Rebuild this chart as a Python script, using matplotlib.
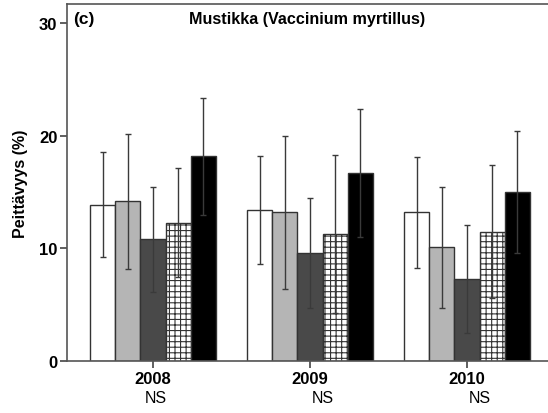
import numpy as np
import matplotlib
matplotlib.use("Agg")
import matplotlib.pyplot as plt

plt.rcParams['font.family'] = ['Liberation Sans', 'DejaVu Sans']
plt.rcParams['hatch.linewidth'] = 0.8

years = ['2008', '2009', '2010']
# cover (%) per treatment, one list per year
means = {
    '2008': [13.9, 14.2, 10.8, 12.3, 18.2],
    '2009': [13.4, 13.2, 9.6, 11.3, 16.7],
    '2010': [13.2, 10.1, 7.3, 11.5, 15.0],
}
errs = {
    '2008': [4.7, 6.0, 4.7, 4.8, 5.2],
    '2009': [4.8, 6.8, 4.9, 7.0, 5.7],
    '2010': [4.9, 5.4, 4.8, 5.9, 5.4],
}
sig = ['NS', 'NS', 'NS']

fills = ['white', '#b5b5b5', '#494949', 'white', 'black']
hatches = [None, None, None, '+++', None]

fig = plt.figure(figsize=(5.48, 4.14), dpi=100)
ax = fig.add_axes([0.1223, 0.1256, 0.8777, 0.862])

x = np.arange(len(years))
w = 0.16
for i in range(5):
    vals = [means[y][i] for y in years]
    ee = [errs[y][i] for y in years]
    pos = x + (i - 2) * w
    ax.bar(pos, vals, w, color=fills[i], edgecolor='#333333', linewidth=1.0,
           hatch=hatches[i], zorder=2)
    ax.errorbar(pos, vals, yerr=ee, fmt='none', ecolor='#3a3a3a',
                elinewidth=1.0, capsize=2.5, capthick=1.0, zorder=3)

ax.set_xlim(-0.548, 2.516)
ax.set_ylim(0, 31.7)
ax.set_yticks([0, 10, 20, 30])
ax.set_xticks(x)
ax.set_xticklabels(years, fontsize=12, fontweight='bold')
for t in ax.get_yticklabels():
    t.set_fontweight('bold')
    t.set_fontsize(12)
ax.tick_params(axis='both', direction='out', length=5, width=1.2,
               color='#444444', pad=2)
ax.spines['right'].set_visible(False)
for s in ['left', 'bottom', 'top']:
    ax.spines[s].set_linewidth(1.2)
    ax.spines[s].set_color('#555555')

ns_dx = [2, 9, 9]
for xi, s, dx in zip(x, sig, ns_dx):
    ax.annotate(s, (xi, 0), xycoords='data', xytext=(dx, -21),
                textcoords='offset points', ha='center', va='top',
                fontsize=11.5, annotation_clip=False)

ax.set_ylabel('Peittävyys (%)', fontsize=11.5, fontweight='bold', labelpad=8)
ax.text(0.012, 0.96, '(c)', transform=ax.transAxes, fontsize=12.5,
        fontweight='bold', va='center', ha='left')
ax.text(0.5, 0.96, 'Mustikka (Vaccinium myrtillus)', transform=ax.transAxes,
        fontsize=11.6, fontweight='bold', va='center', ha='center')

fig.savefig('out.png', dpi=100)
